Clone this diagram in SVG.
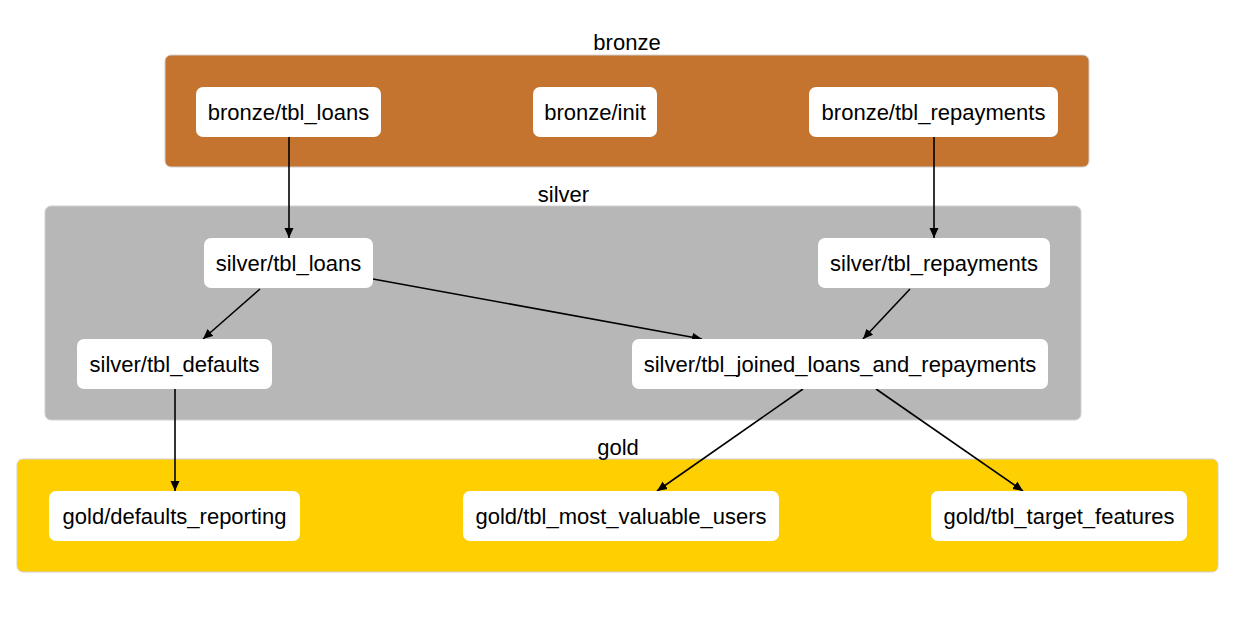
<svg xmlns="http://www.w3.org/2000/svg" width="1245" height="634" viewBox="0 0 1245 634">
<defs>
<style>
.cl{stroke:#d0d0d0;stroke-width:1}
.node rect{fill:#ffffff}
text{font-family:"Liberation Sans",Arial,Helvetica,sans-serif;font-size:22px;fill:#000;text-anchor:middle}
.edge{stroke:#000;stroke-width:1.6;fill:none;marker-end:url(#ah)}
</style>
<marker id="ah" markerWidth="10" markerHeight="10" viewBox="0 0 10 10" refX="10" refY="5" orient="auto" markerUnits="userSpaceOnUse">
<path d="M0,0.5 L10,5 L0,9.5 Z" fill="#000"/>
</marker>
</defs>
<rect width="1245" height="634" fill="#ffffff"/>
<g id="cluster-bronze">
<rect class="cl" x="165" y="55" width="924" height="112" rx="6" fill="#C5742F"/>
<text x="627" y="50">bronze</text>
</g>
<g id="cluster-silver">
<rect class="cl" x="45" y="206" width="1036" height="214" rx="6" fill="#B7B7B7"/>
<text x="563.5" y="202">silver</text>
</g>
<g id="cluster-gold">
<rect class="cl" x="17" y="459" width="1201" height="113" rx="6" fill="#FED002"/>
<text x="618" y="455">gold</text>
</g>
<g id="connectors">
<line class="edge" x1="289" y1="137" x2="289" y2="238"/>
<line class="edge" x1="934" y1="137" x2="934" y2="238"/>
<line class="edge" x1="260" y1="289" x2="203" y2="339"/>
<line class="edge" x1="373" y1="279" x2="702" y2="339"/>
<line class="edge" x1="910" y1="289" x2="863" y2="339"/>
<line class="edge" x1="175" y1="389" x2="175" y2="491"/>
<line class="edge" x1="803" y1="389" x2="657" y2="491"/>
<line class="edge" x1="876" y1="389" x2="1023" y2="491"/>
</g>
<g id="bronze-tbl_loans" class="node"><rect x="196" y="87" width="185" height="50" rx="7"/><text x="288.5" y="119.5">bronze/tbl_loans</text></g>
<g id="bronze-init" class="node"><rect x="533" y="87" width="124" height="50" rx="7"/><text x="595" y="119.5">bronze/init</text></g>
<g id="bronze-tbl_repayments" class="node"><rect x="809" y="87" width="249" height="50" rx="7"/><text x="933.5" y="119.5">bronze/tbl_repayments</text></g>
<g id="silver-tbl_loans" class="node"><rect x="204" y="238" width="169" height="50" rx="7"/><text x="288.5" y="270.5">silver/tbl_loans</text></g>
<g id="silver-tbl_repayments" class="node"><rect x="818" y="238" width="232" height="50" rx="7"/><text x="934" y="270.5">silver/tbl_repayments</text></g>
<g id="silver-tbl_defaults" class="node"><rect x="77" y="339" width="195" height="50" rx="7"/><text x="174.5" y="371.5">silver/tbl_defaults</text></g>
<g id="silver-tbl_joined_loans_and_repayments" class="node"><rect x="632" y="339" width="416" height="50" rx="7"/><text x="840" y="371.5">silver/tbl_joined_loans_and_repayments</text></g>
<g id="gold-defaults_reporting" class="node"><rect x="49" y="491" width="251" height="50" rx="7"/><text x="174.5" y="523.5">gold/defaults_reporting</text></g>
<g id="gold-tbl_most_valuable_users" class="node"><rect x="463" y="491" width="316" height="50" rx="7"/><text x="621" y="523.5">gold/tbl_most_valuable_users</text></g>
<g id="gold-tbl_target_features" class="node"><rect x="931" y="491" width="256" height="50" rx="7"/><text x="1059" y="523.5">gold/tbl_target_features</text></g>
</svg>
